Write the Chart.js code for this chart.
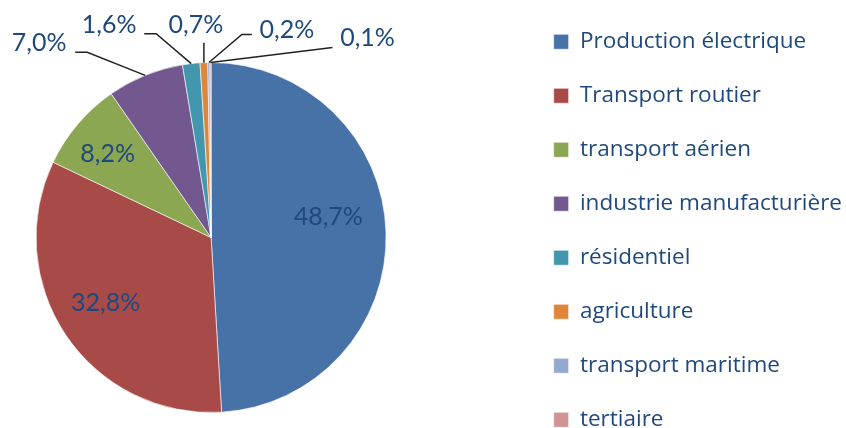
<!DOCTYPE html>
<html lang="fr">
<head>
<meta charset="utf-8">
<script src="https://cdn.jsdelivr.net/npm/chart.js@4.4.1/dist/chart.umd.min.js"></script>
<style>
  html, body { margin: 0; padding: 0; background: #fff; overflow: hidden; }
  #wrap { position: relative; width: 846px; height: 428px; overflow: hidden; }
  #inner { position: absolute; left: -100px; top: -1px; width: 952px; height: 477px; }
</style>
</head>
<body>
<div id="wrap"><div id="inner"><canvas id="pieChart"></canvas></div></div>
<script>
// Répartition des émissions par secteur (%)
const secteurs = ['Production électrique', 'Transport routier', 'transport aérien', 'industrie manufacturière',
  'résidentiel', 'agriculture', 'transport maritime', 'tertiaire'];
const parts = [48.7, 32.8, 8.2, 7.0, 1.6, 0.7, 0.2, 0.1];
const couleurs = ['#4672a8', '#a84a47', '#8ba752', '#72588f', '#4297ae', '#e0863a', '#93a9cf', '#d09593'];

const texteBleu = '#1f497d';
const formatPct = v => v.toFixed(1).replace('.', ',') + '%';

// étiquettes de données (dans les parts ou à l'extérieur avec trait de rappel)
const etiquettes = {
  id: 'etiquettes',
  afterDatasetsDraw(chart, args, opts) {
    const ctx = chart.ctx;
    const meta = chart.getDatasetMeta(0);
    ctx.save();
    ctx.font = '25px Lato';
    ctx.fillStyle = texteBleu;
    ctx.strokeStyle = '#222';
    ctx.lineWidth = 1.5;
    ctx.textAlign = 'center';
    ctx.textBaseline = 'middle';
    meta.data.forEach((arc, i) => {
      const {x, y, startAngle, endAngle, outerRadius} =
        arc.getProps(['x', 'y', 'startAngle', 'endAngle', 'outerRadius'], true);
      const mid = (startAngle + endAngle) / 2;
      const txt = formatPct(parts[i]);
      const dedans = opts.dedans[i];
      if (dedans) {
        const a = mid + dedans.da * Math.PI / 180;
        const r = outerRadius * dedans.r;
        ctx.fillText(txt, x + r * Math.cos(a), y + r * Math.sin(a));
        return;
      }
      const o = opts.dehors[i];
      const ax = x + outerRadius * Math.cos(mid);
      const ay = y + outerRadius * Math.sin(mid);
      ctx.beginPath();
      ctx.moveTo(ax, ay);
      ctx.lineTo(ax + o.coude[0], ay + o.coude[1]);
      ctx.lineTo(ax + o.fin[0], ay + o.fin[1]);
      ctx.stroke();
      ctx.fillText(txt, ax + o.texte[0], ay + o.texte[1]);
    });
    ctx.restore();
  }
};

new Chart(document.getElementById('pieChart'), {
  type: 'pie',
  data: {
    labels: secteurs,
    datasets: [{
      data: parts,
      backgroundColor: couleurs,
      borderColor: 'rgba(255,255,255,0.6)',
      borderWidth: 1,
      radius: 175
    }]
  },
  plugins: [etiquettes],
  options: {
    responsive: true,
    maintainAspectRatio: false,
    animation: false,
    events: [],
    layout: { padding: 0 },
    plugins: {
      tooltip: { enabled: false },
      legend: {
        position: 'right',
        align: 'start',
        labels: {
          boxWidth: 15,
          boxHeight: 15,
          padding: 31.5,
          color: texteBleu,
          font: { family: "'Open Sans'", size: 22.5 }
        }
      },
      etiquettes: {
        dedans: {
          0: { da: -8.3, r: 0.68 },
          1: { da: 2, r: 0.71 },
          2: { da: -1.4, r: 0.76 }
        },
        dehors: {
          3: { coude: [-58, -23], fin: [-70, -23], texte: [-106, -32] },
          4: { coude: [-35, -30], fin: [-47, -30], texte: [-82, -39] },
          5: { coude: [0, -20], fin: [0, -20], texte: [-8, -38] },
          6: { coude: [33, -28], fin: [43, -28], texte: [78, -33] },
          7: { coude: [122, -15], fin: [122, -15], texte: [157, -25] }
        }
      }
    }
  }
});
</script>
</body>
</html>
